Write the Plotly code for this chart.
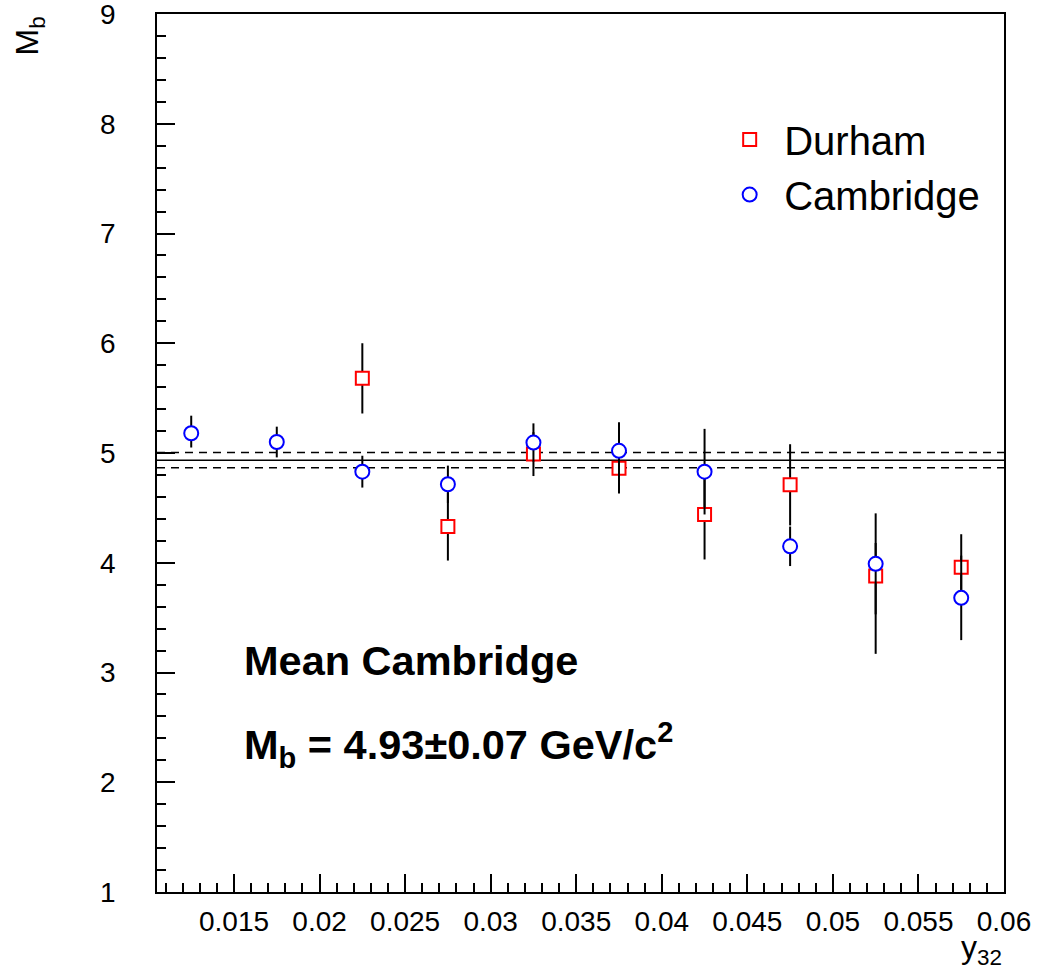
import plotly.graph_objects as go

# ---------------- data ----------------
y32_bins = [0.0125, 0.0175, 0.0225, 0.0275, 0.0325, 0.0375, 0.0425, 0.0475, 0.0525, 0.0575]

cam_mb = [5.18, 5.10, 4.83, 4.715, 5.095, 5.02, 4.83, 4.15, 3.99, 3.68]
cam_err_up = [0.16, 0.14, 0.145, 0.17, 0.175, 0.26, 0.39, 0.18, 0.46, 0.385]
cam_err_dn = [0.13, 0.14, 0.145, 0.17, 0.175, 0.26, 0.39, 0.18, 0.46, 0.385]

dur_y32 = [0.0225, 0.0275, 0.0325, 0.0375, 0.0425, 0.0475, 0.0525, 0.0575]
dur_mb = [5.68, 4.33, 4.99, 4.86, 4.44, 4.71, 3.88, 3.96]
dur_err_up = [0.32, 0.31, 0.20, 0.23, 0.41, 0.37, 0.30, 0.30]
dur_err_dn = [0.32, 0.31, 0.20, 0.23, 0.41, 0.37, 0.71, 0.30]

mean_mb = 4.935
mean_err = 0.07

x_range = [0.0105, 0.06]
y_range = [1, 9]

FONT = "Liberation Sans, Arial, Helvetica, sans-serif"

fig = go.Figure()

# mean line and +- error band lines
fig.add_trace(go.Scatter(x=x_range, y=[mean_mb, mean_mb], mode="lines",
                         line=dict(color="black", width=1.5), showlegend=False, hoverinfo="skip"))
for v in (mean_mb + mean_err, mean_mb - mean_err):
    fig.add_trace(go.Scatter(x=x_range, y=[v, v], mode="lines",
                             line=dict(color="black", width=1.5, dash="8px,6px"),
                             showlegend=False, hoverinfo="skip"))

fig.add_trace(go.Scatter(
    x=dur_y32, y=dur_mb, mode="markers", name="Durham",
    marker=dict(symbol="square", size=13, color="white", line=dict(color="red", width=2)),
    error_y=dict(type="data", symmetric=False, array=dur_err_up, arrayminus=dur_err_dn,
                 color="black", thickness=2, width=0),
))
fig.add_trace(go.Scatter(
    x=y32_bins, y=cam_mb, mode="markers", name="Cambridge",
    marker=dict(symbol="circle", size=14, color="white", line=dict(color="blue", width=2)),
    error_y=dict(type="data", symmetric=False, array=cam_err_up, arrayminus=cam_err_dn,
                 color="black", thickness=2, width=0),
))

axis_common = dict(
    showgrid=False, zeroline=False, showline=True, linecolor="black", linewidth=1.5,
    mirror=True, ticks="inside", ticklen=18, tickwidth=1.5, tickcolor="black",
    tickfont=dict(family=FONT, size=28, color="black"), ticklabeloverflow="allow",
    automargin=False,
)

fig.update_xaxes(range=x_range, tick0=0.015, dtick=0.005,
                 minor=dict(ticks="inside", ticklen=9, tickwidth=1.5, tickcolor="black", dtick=0.001, tick0=0.01),
                 ticklabelstandoff=4, **axis_common)
fig.update_yaxes(range=y_range, tick0=1, dtick=1,
                 minor=dict(ticks="inside", ticklen=9, tickwidth=1.5, tickcolor="black", dtick=0.2, tick0=1),
                 ticklabelstandoff=34, **axis_common)

fig.add_annotation(text="M<sub>b</sub>", xref="paper", yref="paper", x=-0.15, y=1.0,
                   xanchor="center", yanchor="top", textangle=-90, showarrow=False,
                   font=dict(family=FONT, size=32, color="black"))
fig.add_annotation(text="y<sub>32</sub>", xref="paper", yref="paper", x=1.0, y=-0.066,
                   xanchor="right", yanchor="middle", showarrow=False,
                   font=dict(family=FONT, size=32, color="black"))
fig.add_annotation(text="<b>Mean Cambridge</b>", xref="paper", yref="paper", x=0.1, y=0.2642,
                   xanchor="left", yanchor="middle", showarrow=False,
                   font=dict(family=FONT, size=41.5, color="black"))
fig.add_annotation(text="<b>M<sub>b</sub> = 4.93±0.07 GeV/c<sup>2</sup></b>", xref="paper", yref="paper",
                   x=0.1, y=0.1674, xanchor="left", yanchor="middle", showarrow=False,
                   font=dict(family=FONT, size=41.5, color="black"))

fig.update_layout(
    width=1037, height=974,
    margin=dict(l=157, r=33, t=14, b=82),
    plot_bgcolor="white", paper_bgcolor="white",
    legend=dict(x=0.659, y=0.894, xanchor="left", yanchor="top",
                font=dict(family=FONT, size=40, color="black"),
                bgcolor="rgba(0,0,0,0)", itemwidth=59),
    font=dict(family=FONT),
)

fig.write_html("out.html", config={"displayModeBar": False},
               post_script="document.body.style.margin='0';document.body.style.overflow='hidden';")
